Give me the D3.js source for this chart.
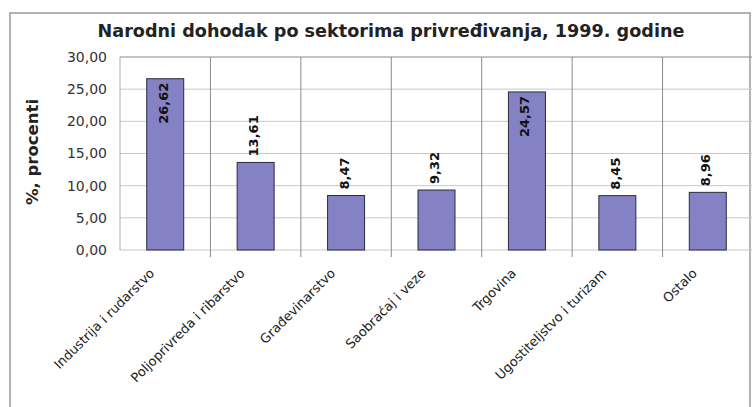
<!DOCTYPE html>
<html lang="en">
<head>
    <meta charset="UTF-8">
    <script src="https://cdnjs.cloudflare.com/ajax/libs/d3/7.8.5/d3.min.js"></script>
    <title>Narodni dohodak po sektorima</title>
    <style>
        body { margin: 0; background: #fff; }
        svg text { font-family: "DejaVu Sans", sans-serif; }
    </style>
</head>
<body>
    <svg width="752" height="407"></svg>
    <script>
        const sectors = ["Industrija i rudarstvo", "Poljoprivreda i ribarstvo", "Građevinarstvo",
            "Saobraćaj i veze", "Trgovina", "Ugostiteljstvo i turizam", "Ostalo"]
        const shares = [26.62, 13.61, 8.47, 9.32, 24.57, 8.45, 8.96]
        const yTicks = [0, 5, 10, 15, 20, 25, 30]

        const svg = d3.select("svg")
        const fmt = v => d3.format(".2f")(v).replace(".", ",")

        // outer chart frame
        svg.append("rect")
            .attr("x", 10).attr("y", 13)
            .attr("width", 740).attr("height", 420)
            .style("fill", "none")
            .style("stroke", "#9a9a9a")
            .style("stroke-width", "1.5px")

        const x = d3.scaleBand().domain(sectors).range([120, 753]).paddingInner(0).paddingOuter(0)
        const y = d3.scaleLinear().domain([0, 30]).range([250, 57])

        // horizontal gridlines
        svg.append("g")
            .selectAll("line")
            .data(yTicks)
            .enter()
            .append("line")
            .attr("x1", 120).attr("x2", 753)
            .attr("y1", d => y(d)).attr("y2", d => y(d))
            .style("stroke", d => d === 30 ? "#888" : "#c8c8c8")
            .style("stroke-width", "1px")

        // category dividers
        svg.append("g")
            .selectAll("line")
            .data(sectors.slice(1))
            .enter()
            .append("line")
            .attr("x1", d => x(d)).attr("x2", d => x(d))
            .attr("y1", y(30)).attr("y2", y(0) + 7)
            .style("stroke", "#8a8a8a")
            .style("stroke-width", "1px")

        svg.append("line")
            .attr("x1", 120).attr("x2", 120)
            .attr("y1", y(30)).attr("y2", y(0))
            .style("stroke", "#aaa")

        // y tick labels
        svg.append("g")
            .selectAll("text")
            .data(yTicks)
            .enter()
            .append("text")
            .attr("x", 107)
            .attr("y", d => y(d))
            .attr("dy", "0.35em")
            .style("text-anchor", "end")
            .style("font-size", "14px")
            .style("fill", "#333")
            .text(fmt)

        // bars
        const bw = 37
        svg.append("g")
            .selectAll("rect")
            .data(sectors)
            .enter()
            .append("rect")
            .attr("x", d => x(d) + x.bandwidth() / 2 - bw / 2)
            .attr("y", (d, i) => y(shares[i]))
            .attr("width", bw)
            .attr("height", (d, i) => y(0) - y(shares[i]))
            .style("fill", "#8482c4")
            .style("stroke", "#2a2a40")
            .style("stroke-width", "1px")

        // value labels
        svg.append("g")
            .selectAll("text")
            .data(sectors)
            .enter()
            .append("text")
            .attr("transform", (d, i) => {
                const cx = x(d) + x.bandwidth() / 2 - 2
                const inside = shares[i] > 20
                const yy = inside ? y(shares[i]) + 4 : y(shares[i]) - 6
                return `translate(${cx},${yy}) rotate(-90)`
            })
            .attr("dy", "0.35em")
            .style("text-anchor", (d, i) => shares[i] > 20 ? "end" : "start")
            .style("font-size", "13px")
            .style("font-weight", "bold")
            .style("fill", "#111")
            .text((d, i) => fmt(shares[i]))

        // category labels
        svg.append("g")
            .selectAll("text")
            .data(sectors)
            .enter()
            .append("text")
            .attr("transform", d => `translate(${x(d) + x.bandwidth() / 2 - 10},${274}) rotate(-45)`)
            .style("text-anchor", "end")
            .style("font-size", "13px")
            .style("fill", "#222")
            .text(d => d)

        // title
        svg.append("text")
            .attr("x", 391).attr("y", 37)
            .style("text-anchor", "middle")
            .style("font-size", "17.6px")
            .style("font-weight", "bold")
            .style("fill", "#222")
            .text("Narodni dohodak po sektorima privređivanja, 1999. godine")

        // y axis title
        svg.append("text")
            .attr("transform", "translate(32,152) rotate(-90)")
            .attr("dy", "0.35em")
            .style("text-anchor", "middle")
            .style("font-size", "16.5px")
            .style("font-weight", "bold")
            .style("fill", "#222")
            .text("%, procenti")
    </script>
</body>
</html>
